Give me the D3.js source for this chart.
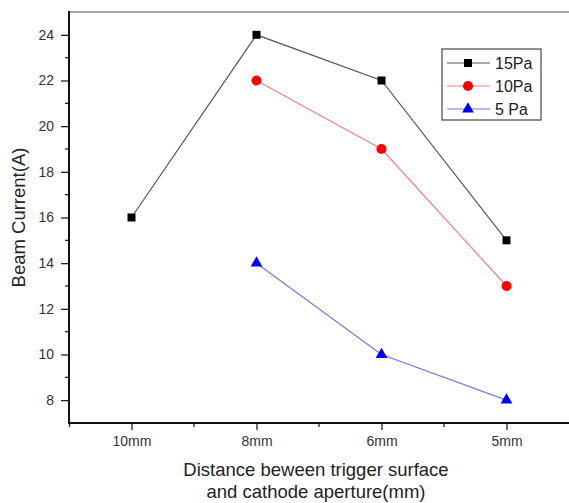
<!DOCTYPE html>
<html><head><meta charset="utf-8">
<script src="https://cdn.jsdelivr.net/npm/d3@7"></script>
<style>body{margin:0;background:#fff}svg{display:block}text{font-family:"Liberation Sans",Arial,sans-serif}</style>
</head><body><svg id="c" width="569" height="503"></svg>
<script>
const categories = ["10mm","8mm","6mm","5mm"];
const s15 = [16,24,22,15];
const s10 = [null,22,19,13];
const s5 = [null,14,10,8];
const seriesNames = ["15Pa","10Pa","5 Pa"];
const yTicks = [8,10,12,14,16,18,20,22,24];

const svg = d3.select("#c");
const L=69,R=569,T=12,B=423;
const x = d3.scalePoint().domain(categories).range([L,R]).padding(0.5);
const y = d3.scaleLinear().domain([7,25]).range([B,T]);

// top line
svg.append("line").attr("x1",L).attr("x2",R).attr("y1",T).attr("y2",T).attr("stroke","#888").attr("stroke-width",1.5);

// y axis
const ya = svg.append("g").attr("transform",`translate(${L},0)`)
  .call(d3.axisLeft(y).tickValues(yTicks).tickSize(8).tickPadding(7).tickFormat(d3.format("d")));
ya.select(".domain").remove();
ya.selectAll(".tick line").attr("stroke","#222").attr("stroke-width",1.3);
ya.selectAll(".tick text").attr("font-size",14).attr("fill","#333").style("font-family","Liberation Sans, Arial");
const yminor = d3.range(9,25,2);
svg.append("g").selectAll("line").data(yminor).join("line")
  .attr("x1",L-4).attr("x2",L).attr("y1",d=>y(d)).attr("y2",d=>y(d)).attr("stroke","#222").attr("stroke-width",1.3);
svg.append("line").attr("x1",L).attr("x2",L).attr("y1",T-1).attr("y2",B+1).attr("stroke","#111").attr("stroke-width",2);

// x axis
const xa = svg.append("g").attr("transform",`translate(0,${B})`)
  .call(d3.axisBottom(x).tickSize(7).tickPadding(6));
xa.select(".domain").remove();
xa.selectAll(".tick line").attr("stroke","#222").attr("stroke-width",1.3);
xa.selectAll(".tick text").attr("font-size",14).attr("fill","#333").style("font-family","Liberation Sans, Arial");
const step = x.step();
const xminor = categories.slice(0,-1).map(c=>x(c)+step/2).concat([x(categories[0])-step/2+0.5]);
svg.append("g").selectAll("line").data(xminor).join("line")
  .attr("x1",d=>d).attr("x2",d=>d).attr("y1",B).attr("y2",B+4).attr("stroke","#222").attr("stroke-width",1.3);
svg.append("line").attr("x1",L-1).attr("x2",R).attr("y1",B).attr("y2",B).attr("stroke","#111").attr("stroke-width",2);

// labels
svg.append("text").attr("transform",`translate(25,${(T+B)/2}) rotate(-90)`).attr("text-anchor","middle")
  .attr("font-size",18.5).attr("fill","#222").text("Beam Current(A)");
svg.append("text").attr("x",316).attr("y",476).attr("text-anchor","middle").attr("font-size",18.5).attr("fill","#222").text("Distance beween trigger surface");
svg.append("text").attr("x",316).attr("y",498).attr("text-anchor","middle").attr("font-size",18.5).attr("fill","#222").text("and cathode aperture(mm)");

const series = [
  {name:seriesNames[0], vals:s15, line:"#555", fill:"#000", sym:d3.symbolSquare, size:64},
  {name:seriesNames[1], vals:s10, line:"#f08080", fill:"#ff0000", sym:d3.symbolCircle, size:80},
  {name:seriesNames[2], vals:s5, line:"#7777dd", fill:"#0000ff", sym:d3.symbolTriangle, size:60}
];
const line = d3.line().defined(d=>d.v!=null).x(d=>x(d.c)).y(d=>y(d.v));
series.forEach(s=>{
  const pts = categories.map((c,i)=>({c,v:s.vals[i]}));
  svg.append("path").datum(pts).attr("d",line).attr("fill","none").attr("stroke",s.line).attr("stroke-width",1.2);
  svg.append("g").selectAll("path").data(pts.filter(d=>d.v!=null)).join("path")
    .attr("transform",d=>`translate(${x(d.c)},${y(d.v)})`)
    .attr("d",d3.symbol().type(s.sym).size(s.size)).attr("fill",s.fill);
});

// legend
const lg = svg.append("g");
lg.append("rect").attr("x",442).attr("y",49).attr("width",99).attr("height",71).attr("fill","#fff").attr("stroke","#444").attr("stroke-width",1.2);
series.forEach((s,i)=>{
  const yy = 63+i*23;
  lg.append("line").attr("x1",447).attr("x2",490).attr("y1",yy).attr("y2",yy).attr("stroke",s.line).attr("stroke-width",1.2);
  lg.append("path").attr("transform",`translate(468,${yy})`).attr("d",d3.symbol().type(s.sym).size(s.size)).attr("fill",s.fill);
  lg.append("text").attr("x",495).attr("y",yy+5.5).attr("font-size",16).attr("fill","#222").text(s.name);
});
</script></body></html>
